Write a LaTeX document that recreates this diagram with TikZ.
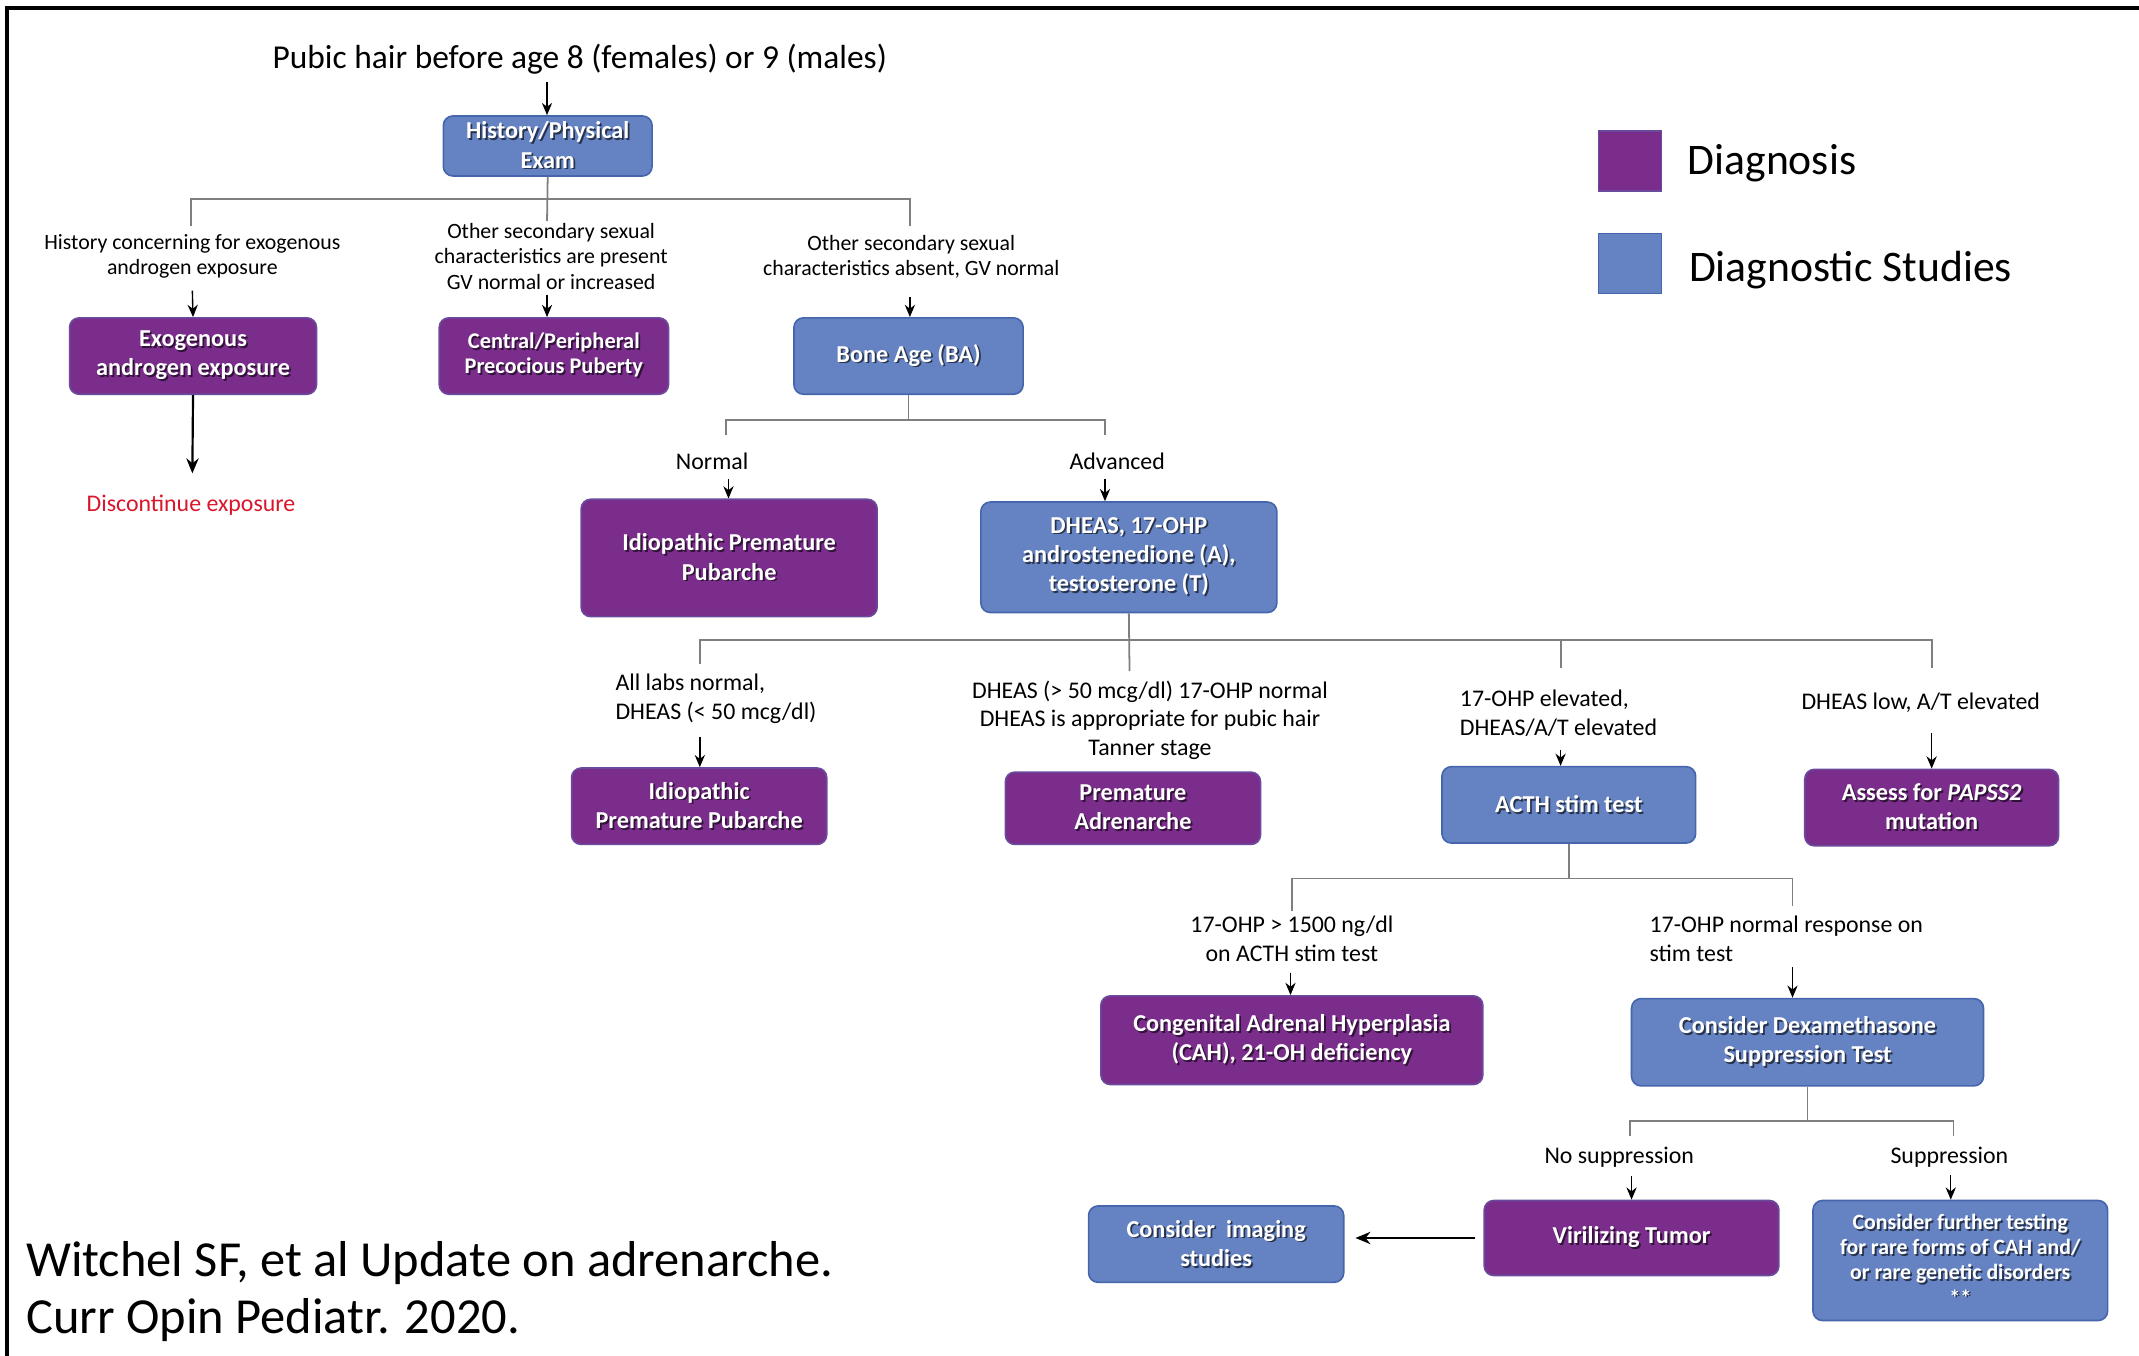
\documentclass[tikz,border=0pt]{standalone}
\usepackage{fontspec}
\setmainfont{Carlito}
\usetikzlibrary{arrows.meta}
\definecolor{purp}{HTML}{7B2D8B}
\definecolor{purpd}{HTML}{6A4A9C}
\definecolor{blu}{HTML}{6583C2}
\definecolor{blud}{HTML}{4566AC}
\definecolor{conng}{HTML}{7F7F7F}
\definecolor{redt}{HTML}{D9162B}
\colorlet{shc}{black}
\newcommand\shd[1]{\makebox[0pt][l]{\hspace{1.3pt}\raisebox{-1.3pt}{\textcolor{shc}{#1}}}#1}
\tikzset{
  boxbase/.style={rectangle, rounded corners=7pt, line width=1.2pt, text=white,
    font=\bfseries\fontsize{17.8}{21.5}\selectfont, align=center, inner sep=0pt},
  diag/.style={boxbase, fill=purp, draw=purpd, execute at begin node={\colorlet{shc}{purp!40!black}}},
  study/.style={boxbase, fill=blu, draw=blud, execute at begin node={\colorlet{shc}{blu!40!black}}},
  lbl/.style={font=\fontsize{17.5}{21}\selectfont, align=center, inner sep=0pt},
  lbltop/.style={font=\fontsize{16}{18.5}\selectfont, align=center, inner sep=0pt},
  conn/.style={draw=conng, line width=1.3pt},
  arr/.style={draw=black, line width=1pt, -{Stealth[length=9pt,width=7.5pt]}},
  bigarr/.style={draw=black, line width=1.6pt, -{Stealth[length=11pt,width=9pt]}}
}
\begin{document}
\begin{tikzpicture}[x=1pt,y=-1pt]
\useasboundingbox (0,0) rectangle (1568,994);
% frame
\draw[line width=2.6pt] (5,994) -- (5,6) -- (1568,6);

% title and top
\node[font=\fontsize{24.5}{28}\selectfont, inner sep=0pt] (title) at (425,43) {Pubic hair before age 8 (females) or 9 (males)};
\node[study, minimum width=153pt, minimum height=44pt] (hist) at (401.5,107) {\shd{History/Physical}\\\shd{Exam}};
\coordinate (atitle) at (401,60);
\draw[arr] (atitle) -- (atitle |- hist.north);

% first branch
\coordinate (b1) at (401,146);
\coordinate (b1l) at (140,146);
\coordinate (b1r) at (667,146);
\coordinate (b1ld) at (140,166);
\coordinate (b1rd) at (667,166);
\coordinate (b1md) at (401,162);
\draw[conn] (hist.south) -- (b1md);
\draw[conn] (b1ld) -- (b1l) -- (b1r) -- (b1rd);

\node[lbltop] (lexo) at (141,188) {History concerning for exogenous\\androgen exposure};
\node[lbltop] (lcpp) at (404,188) {Other secondary sexual\\characteristics are present\\GV normal or increased};
\node[lbltop] (lba) at (668,188) {Other secondary sexual\\characteristics absent, GV normal};

\node[diag, minimum width=181pt, minimum height=56pt] (exo) at (141.5,261) {\shd{Exogenous}\\\shd{androgen exposure}};
\node[diag, minimum width=168pt, minimum height=56pt, font=\bfseries\fontsize{16.4}{18.5}\selectfont] (cpp) at (406,261) {\shd{Central/Peripheral}\\\shd{Precocious Puberty}};
\node[study, minimum width=168pt, minimum height=56pt] (ba) at (666,261) {\shd{Bone Age (BA)}};

\coordinate (aexo) at (141,213);
\coordinate (acpp) at (401,216);
\coordinate (aba) at (667,218);
\draw[arr] (aexo) -- (exo.north);
\draw[arr] (acpp) -- (acpp |- cpp.north);
\draw[arr] (aba) -- (aba |- ba.north);

\node[lbl, text=redt] (disc) at (140,370) {Discontinue exposure};
\coordinate (adisc) at (141,347);
\draw[bigarr] (exo.south) -- (adisc);

% bone age branch
\coordinate (b2) at (666,308);
\coordinate (b2l) at (532,308);
\coordinate (b2r) at (810,308);
\coordinate (b2ld) at (532,319);
\coordinate (b2rd) at (810,319);
\draw[conn] (ba.south) -- (b2);
\draw[conn] (b2ld) -- (b2l) -- (b2r) -- (b2rd);
\node[lbl] (lnorm) at (522,338) {Normal};
\node[lbl] (ladv) at (819,338) {Advanced};

\node[diag, minimum width=217pt, minimum height=86pt] (ipp1) at (534.5,409) {\shd{Idiopathic Premature}\\\shd{Pubarche}};
\node[study, minimum width=217pt, minimum height=81pt] (dheas) at (827.5,408.5) {\shd{DHEAS, 17-OHP}\\\shd{androstenedione (A),}\\\shd{testosterone (T)}};
\coordinate (anorm) at (534,351);
\coordinate (aadv) at (810,351);
\draw[arr] (anorm) -- (anorm |- ipp1.north);
\draw[arr] (aadv) -- (aadv |- dheas.north);

% labs branch
\coordinate (b3) at (828,469);
\coordinate (b3l) at (513,469);
\coordinate (b3r) at (1416,469);
\coordinate (b3m) at (1144,469);
\coordinate (b3ld) at (513,487);
\coordinate (b3md) at (1144,490);
\coordinate (b3rd) at (1416,490);
\coordinate (b3cd) at (828,492);
\draw[conn] (dheas.south) -- (b3cd);
\draw[conn] (b3ld) -- (b3l) -- (b3r) -- (b3rd);
\draw[conn] (b3m) -- (b3md);

\node[lbl, anchor=west, align=left] (lall) at (451,512) {All labs normal,\\DHEAS (< 50 mcg/dl)};
\node[lbl] (lpa) at (843,528) {DHEAS (> 50 mcg/dl) 17-OHP normal\\DHEAS is appropriate for pubic hair\\Tanner stage};
\node[lbl, anchor=west, align=left] (l17) at (1070,523) {17-OHP elevated,\\DHEAS/A/T elevated};
\node[lbl] (llow) at (1408,515) {DHEAS low, A/T elevated};

\node[diag, minimum width=187pt, minimum height=56pt] (ipp2) at (512.5,591) {\shd{Idiopathic}\\\shd{Premature Pubarche}};
\node[diag, minimum width=187pt, minimum height=53pt] (pa) at (830.5,592.5) {\shd{Premature}\\\shd{Adrenarche}};
\node[study, minimum width=186pt, minimum height=56pt] (acth) at (1150,590) {\shd{ACTH stim test}};
\node[diag, minimum width=186pt, minimum height=56pt] (papss) at (1416,592) {\shd{Assess for \textit{PAPSS2}}\\\shd{mutation}};

\coordinate (aall) at (513,540);
\coordinate (a17) at (1144,550);
\coordinate (alow) at (1416,537);
\draw[arr] (aall) -- (aall |- ipp2.north);
\draw[arr] (a17) -- (a17 |- acth.north);
\draw[arr] (alow) -- (alow |- papss.north);

% ACTH branch
\coordinate (b4) at (1150,644);
\coordinate (b4l) at (947,644);
\coordinate (b4r) at (1314,644);
\coordinate (b4ld) at (947,668);
\coordinate (b4rd) at (1314,664);
\draw[conn] (acth.south) -- (b4);
\draw[conn] (b4ld) -- (b4l) -- (b4r) -- (b4rd);

\node[lbl] (l1500) at (947,688) {17-OHP > 1500 ng/dl\\on ACTH stim test};
\node[lbl, anchor=west, align=left] (lnr) at (1209,688) {17-OHP normal response on\\stim test};

\node[diag, minimum width=280pt, minimum height=65pt] (cah) at (947,762.5) {\shd{Congenital Adrenal Hyperplasia}\\\shd{(CAH), 21-OH deficiency}};
\node[study, minimum width=258pt, minimum height=64pt] (dex) at (1325,764) {\shd{Consider Dexamethasone}\\\shd{Suppression Test}};
\coordinate (a1500) at (946,713);
\coordinate (anr) at (1314,709);
\draw[arr] (a1500) -- (a1500 |- cah.north);
\draw[arr] (anr) -- (anr |- dex.north);

% Dex branch
\coordinate (b5) at (1325,822);
\coordinate (b5l) at (1195,822);
\coordinate (b5r) at (1432,822);
\coordinate (b5ld) at (1195,833);
\coordinate (b5rd) at (1432,833);
\draw[conn] (dex.south) -- (b5);
\draw[conn] (b5ld) -- (b5l) -- (b5r) -- (b5rd);

\node[lbl] (lnos) at (1187,848) {No suppression};
\node[lbl] (lsup) at (1429,848) {Suppression};

\node[diag, minimum width=216pt, minimum height=55pt] (vt) at (1196,907.5) {\shd{Virilizing Tumor}};
\node[study, minimum width=216pt, minimum height=88pt, font=\bfseries\fontsize{16}{18.5}\selectfont] (fur) at (1437,924) {\shd{Consider further testing}\\\shd{for rare forms of CAH and/}\\\shd{or rare genetic disorders}\\\shd{**}};
\node[study, minimum width=187pt, minimum height=56pt] (img) at (891.5,912) {\shd{Consider\ \ imaging}\\\shd{studies}};
\coordinate (anos) at (1196,862);
\coordinate (asup) at (1430,861);
\draw[arr] (anos) -- (anos |- vt.north);
\draw[arr] (asup) -- (asup |- fur.north);
\draw[bigarr] ([xshift=-6pt]vt.west) -- ([xshift=8pt]img.east |- vt.west);

% legend
\node[rectangle, fill=purp, draw=purpd, line width=1pt, minimum width=46pt, minimum height=44pt] (sqd) at (1195,118) {};
\node[rectangle, fill=blu, draw=blud, line width=1pt, minimum width=46pt, minimum height=44pt] (sqs) at (1195,193) {};
\node[anchor=west, inner sep=0pt, font=\fontsize{32}{36}\selectfont] (legd) at (1237,120) {Diagnosis};
\node[anchor=west, inner sep=0pt, font=\fontsize{32}{36}\selectfont] (legs) at (1238,198) {Diagnostic Studies};

% citation
\node[anchor=west, inner sep=0pt, font=\fontsize{37}{42}\selectfont] (cit1) at (19,926) {Witchel SF, et al Update on adrenarche.};
\node[anchor=west, inner sep=0pt, font=\fontsize{37}{42}\selectfont] (cit2) at (19,968) {Curr Opin Pediatr. 2020.};
\end{tikzpicture}
\end{document}
